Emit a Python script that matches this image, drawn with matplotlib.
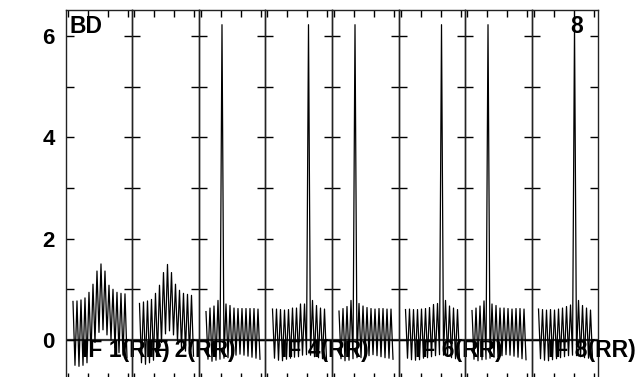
import matplotlib.pyplot as plt
from matplotlib.ticker import MultipleLocator

plt.rcParams['font.family'] = ['Liberation Sans', 'DejaVu Sans']
plt.rcParams['font.weight'] = 'bold'

# channel numbers inside each IF
channels = list(range(1, 29))

# spectrum alternates between a high and a low channel
highs = {
    1: [0.76, 0.77, 0.79, 0.83, 0.94, 1.10, 1.36, 1.50, 1.36, 1.08, 1.00, 0.94, 0.92, 0.91],
    2: [0.72, 0.75, 0.77, 0.80, 0.92, 1.08, 1.33, 1.49, 1.33, 1.10, 0.98, 0.92, 0.90, 0.88],
    3: [0.56, 0.63, 0.67, 0.78, 6.22, 0.71, 0.68, 0.63, 0.62, 0.62, 0.62, 0.62, 0.62, 0.61],
    4: [0.61, 0.61, 0.60, 0.59, 0.60, 0.63, 0.63, 0.71, 0.71, 6.22, 0.78, 0.68, 0.63, 0.61],
    5: [0.57, 0.62, 0.66, 0.78, 6.22, 0.72, 0.67, 0.64, 0.62, 0.61, 0.62, 0.62, 0.61, 0.61],
    6: [0.60, 0.61, 0.60, 0.60, 0.61, 0.62, 0.64, 0.70, 0.72, 6.22, 0.78, 0.67, 0.63, 0.60],
    7: [0.58, 0.63, 0.67, 0.77, 6.22, 0.71, 0.68, 0.63, 0.63, 0.62, 0.61, 0.62, 0.62, 0.61],
    8: [0.61, 0.60, 0.59, 0.60, 0.59, 0.61, 0.63, 0.66, 0.69, 6.22, 0.78, 0.68, 0.63, 0.59],
}
lows = {
    1: [-0.50, -0.52, -0.50, -0.45, -0.30, -0.05, 0.15, 0.20, 0.10, 0.00, -0.15, -0.25, -0.30, -0.35],
    2: [-0.45, -0.48, -0.45, -0.40, -0.28, -0.05, 0.12, 0.18, 0.10, -0.02, -0.15, -0.22, -0.28, -0.32],
    3: [-0.38, -0.42, -0.40, -0.38, -0.36, -0.35, -0.34, -0.30, -0.28, -0.30, -0.32, -0.34, -0.36, -0.38],
    4: [-0.36, -0.40, -0.41, -0.38, -0.36, -0.34, -0.33, -0.30, -0.29, -0.30, -0.33, -0.35, -0.37, -0.39],
    5: [-0.37, -0.41, -0.40, -0.37, -0.35, -0.35, -0.33, -0.31, -0.29, -0.31, -0.33, -0.35, -0.36, -0.38],
    6: [-0.36, -0.39, -0.40, -0.39, -0.36, -0.35, -0.33, -0.31, -0.29, -0.30, -0.32, -0.35, -0.37, -0.38],
    7: [-0.38, -0.41, -0.39, -0.38, -0.36, -0.34, -0.33, -0.31, -0.29, -0.30, -0.32, -0.34, -0.37, -0.39],
    8: [-0.37, -0.40, -0.41, -0.39, -0.37, -0.35, -0.33, -0.31, -0.30, -0.31, -0.33, -0.35, -0.36, -0.38],
}
if_labels = {1: 'IF 1(RR)', 2: 'IF 2(RR)', 4: 'IF 4(RR)', 6: 'IF 6(RR)', 8: 'IF 8(RR)'}
x_ticks = [-1.5, 8.5, 18.5, 28.5]

fig = plt.figure(figsize=(6.4, 3.77), dpi=100)
axes = fig.subplots(1, 8, sharey=True, gridspec_kw=dict(wspace=0))
fig.subplots_adjust(left=0.1031, right=0.9344, bottom=-0.008, top=0.9735)

for n, ax in enumerate(axes, start=1):
    ax.patch.set_visible(False)
    spec = []
    for h, l in zip(highs[n], lows[n]):
        spec += [h, l]
    ax.plot(channels, spec, color='black', lw=0.9)
    ax.axhline(0, color='#333333', lw=1.6, zorder=1)
    ax.set_xlim(-2.5, 30.75)
    ax.set_ylim(-0.79, 6.51)
    ax.set_xticks(x_ticks)
    ax.set_xticklabels([])
    ax.yaxis.set_major_locator(MultipleLocator(2))
    ax.yaxis.set_minor_locator(MultipleLocator(1))
    ax.tick_params(axis='both', which='both', direction='in', top=True, bottom=True,
                   left=True, right=True, length=6, width=1, color='black')
    ax.tick_params(axis='x', length=5)
    for s in ax.spines.values():
        s.set_linewidth(1.0)
        s.set_color('#222222')
    if n in if_labels:
        ax.text(5.5, -0.33, if_labels[n], fontsize=16.5, fontweight='bold', ha='left',
                va='baseline', zorder=5, clip_on=False)

axes[0].tick_params(axis='y', labelsize=16, pad=8)
for lab in axes[0].get_yticklabels():
    lab.set_fontweight('bold')
axes[0].text(-0.5, 6.05, 'BD', fontsize=16.5, fontweight='bold', ha='left', va='baseline')
axes[7].text(17.0, 6.05, '8', fontsize=16.5, fontweight='bold', ha='left', va='baseline')

plt.savefig('out.png', dpi=100)
